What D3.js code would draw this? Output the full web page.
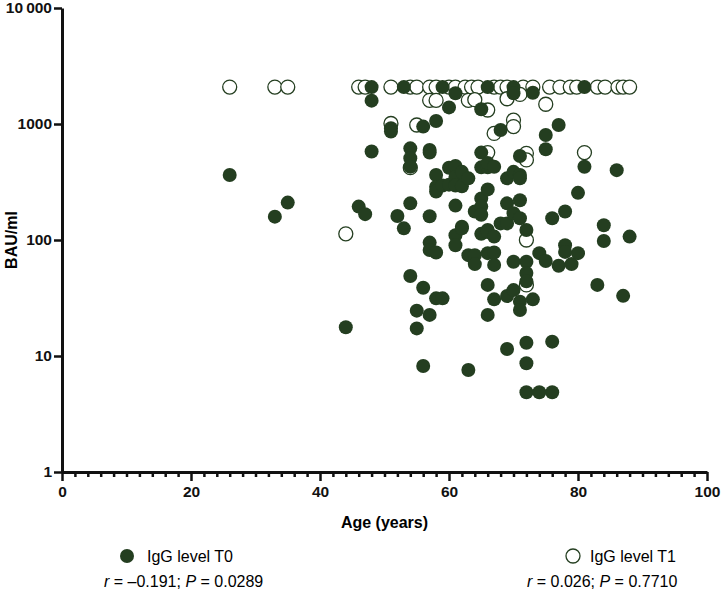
<!DOCTYPE html>
<html>
<head>
<meta charset="utf-8">
<script src="https://cdnjs.cloudflare.com/ajax/libs/d3/7.8.5/d3.min.js"></script>
<style>
  body { margin: 0; background: #fff; }
  svg { font-family: "Liberation Sans", Arial, sans-serif; }
  .axis-label { font-weight: bold; font-size: 15.5px; }
  .axis-title { font-weight: bold; font-size: 16px; }
  .legend-text { font-size: 16px; }
</style>
</head>
<body>
<div id="chart"></div>
<script>
  // IgG level at T0 (filled): age and BAU/ml.
  var t0Age = [26, 33, 35, 44, 46, 47, 48, 48, 48, 51, 51, 52, 53, 53, 54, 54, 54, 54, 54,
    55, 55, 56, 56, 56, 57, 57, 57, 57, 57, 57, 58, 58, 58, 58, 58, 58, 59, 59, 59,
    60, 60, 60, 61, 61, 61, 61, 61, 61, 61, 62, 62, 62, 62, 63, 63, 63, 64, 64, 64,
    65, 65, 65, 65, 65, 65, 65, 66, 66, 66, 66, 66, 66, 66, 66, 66, 67, 67, 67, 67, 67,
    68, 68, 69, 69, 69, 69, 69, 70, 70, 70, 70, 70, 70, 71, 71, 71, 71, 71, 71, 71,
    72, 72, 72, 72, 72, 72, 72, 73, 73, 74, 74, 75, 75, 75, 76, 76, 76, 77, 77,
    78, 78, 78, 79, 80, 80, 81, 81, 83, 84, 84, 86, 87, 88];
  var t0Value = [363, 159, 210, 17.7, 194, 167, 2080, 1590, 580, 920, 860, 161, 2080, 126, 617, 506, 428, 207, 49,
    24.6, 17.3, 950, 38.8, 8.2, 597, 160, 95, 82, 22.6, 567, 1060, 78, 363, 31.4, 287, 262, 2080, 31.4, 295,
    1390, 420, 300, 1840, 435, 350, 198, 110, 90, 295, 387, 290, 130, 126, 340, 74, 7.57, 74, 62, 176,
    228, 194, 165, 423, 567, 1340, 113, 2080, 273, 423, 460, 122, 117, 77, 41, 22.6, 428, 107, 78, 61, 30.8,
    888, 139, 340, 207, 139, 32.9, 11.5, 2080, 1840, 387, 170, 65, 37, 363, 220, 154, 530, 29.4, 24.9, 340,
    122, 65, 52, 44, 13, 8.65, 4.87, 1860, 30.8, 77, 4.87, 66, 805, 605, 154, 13.3, 4.87, 980, 60,
    176, 90, 79, 62, 255, 77, 2080, 428, 41, 134, 98, 400, 33, 107];

  // IgG level at T1 (open).
  var t1Age = [26, 33, 35, 46, 47, 51, 54, 55, 57, 58, 60, 61, 62.5, 63.5, 64.5, 67, 68, 69, 71.5, 73,
    75.6, 77.2, 78.8, 79.8, 83, 84.2, 86.2, 87, 88,
    44, 51, 55, 57, 58, 63, 64, 69, 71, 66, 75, 70, 70, 67, 54, 66, 72, 72, 81, 72, 72];
  var t1Value = [2080, 2080, 2080, 2080, 2080, 2080, 2080, 2080, 2080, 2080, 2080, 2080, 2080, 2080, 2080, 2080, 2080, 2080, 2080, 2080,
    2080, 2080, 2080, 2080, 2080, 2080, 2080, 2080, 2080,
    113, 1010, 980, 1600, 1600, 1600, 1620, 1650, 1800, 1320, 1480, 1080, 950, 830, 420, 567, 559, 490, 567, 100, 41];

  var xTicks = [0, 20, 40, 60, 80, 100];
  var yTicks = [1, 10, 100, 1000, 10000];
  var yTickLabels = ["1", "10", "100", "1000", "10\u2009000"];

  var green = "#243e20";
  var width = 722, height = 595;
  var margin = { left: 62, top: 8, right: 15, bottom: 123 };
  var innerW = width - margin.left - margin.right;
  var innerH = height - margin.top - margin.bottom;

  var svg = d3.select("#chart").append("svg")
    .attr("width", width).attr("height", height);

  var g = svg.append("g")
    .attr("transform", "translate(" + margin.left + "," + margin.top + ")");

  var x = d3.scaleLinear().domain([0, 100]).range([0, innerW]);
  var y = d3.scaleLog().domain([1, 10000]).range([innerH, 0]);

  // Minor ticks on the x axis every 2 years.
  var xMinor = d3.range(0, 101, 2).filter(function (d) { return d % 20 !== 0; });
  g.append("g")
    .attr("transform", "translate(0," + innerH + ")")
    .call(d3.axisBottom(x).tickValues(xMinor).tickSize(5).tickFormat(""))
    .call(function (a) { a.select(".domain").remove(); })
    .selectAll("line").attr("stroke", "#111").attr("stroke-width", 2.5);

  var xAxis = g.append("g")
    .attr("transform", "translate(0," + innerH + ")")
    .call(d3.axisBottom(x).tickValues(xTicks).tickSize(9).tickPadding(5).tickSizeOuter(0));
  xAxis.selectAll("text").attr("class", "axis-label").attr("fill", "#111");

  var yAxis = g.append("g")
    .call(d3.axisLeft(y).tickValues(yTicks).tickSize(8).tickPadding(2).tickSizeOuter(0)
      .tickFormat(function (d, i) { return yTickLabels[i]; }));
  yAxis.selectAll("text").attr("class", "axis-label").attr("fill", "#111");

  [xAxis, yAxis].forEach(function (a) {
    a.select(".domain").attr("stroke", "#111").attr("stroke-width", 3);
    a.selectAll(".tick line").attr("stroke", "#111").attr("stroke-width", 2.5);
  });

  // Axis titles.
  svg.append("text").attr("class", "axis-title")
    .attr("transform", "translate(17," + (margin.top + y(100)) + ") rotate(-90)")
    .attr("text-anchor", "middle").text("BAU/ml");
  svg.append("text").attr("class", "axis-title")
    .attr("x", margin.left + x(50)).attr("y", 528)
    .attr("text-anchor", "middle").text("Age (years)");

  // T1 open circles drawn first, T0 filled on top.
  var r = 7;
  g.selectAll("circle.t1").data(t1Age).enter().append("circle")
    .attr("class", "t1")
    .attr("cx", function (d) { return x(d); })
    .attr("cy", function (d, i) { return y(t1Value[i]); })
    .attr("r", r)
    .attr("fill", "#fff").attr("stroke", green).attr("stroke-width", 1.3);

  g.selectAll("circle.t0").data(t0Age).enter().append("circle")
    .attr("class", "t0")
    .attr("cx", function (d) { return x(d); })
    .attr("cy", function (d, i) { return y(t0Value[i]); })
    .attr("r", r)
    .attr("fill", green);

  // Legend with correlation stats.
  var legend = svg.append("g");
  legend.append("circle").attr("cx", 127).attr("cy", 556).attr("r", r).attr("fill", green);
  legend.append("text").attr("class", "legend-text").attr("x", 147).attr("y", 562).text("IgG level T0");
  var s0 = legend.append("text").attr("class", "legend-text").attr("x", 104).attr("y", 587);
  s0.append("tspan").attr("font-style", "italic").text("r");
  s0.append("tspan").text(" = \u20130.191; ");
  s0.append("tspan").attr("font-style", "italic").text("P");
  s0.append("tspan").text(" = 0.0289");

  legend.append("circle").attr("cx", 573).attr("cy", 556).attr("r", r)
    .attr("fill", "#fff").attr("stroke", green).attr("stroke-width", 1.3);
  legend.append("text").attr("class", "legend-text").attr("x", 590).attr("y", 562).text("IgG level T1");
  var s1 = legend.append("text").attr("class", "legend-text").attr("x", 527).attr("y", 587);
  s1.append("tspan").attr("font-style", "italic").text("r");
  s1.append("tspan").text(" = 0.026; ");
  s1.append("tspan").attr("font-style", "italic").text("P");
  s1.append("tspan").text(" = 0.7710");
</script>
</body>
</html>
